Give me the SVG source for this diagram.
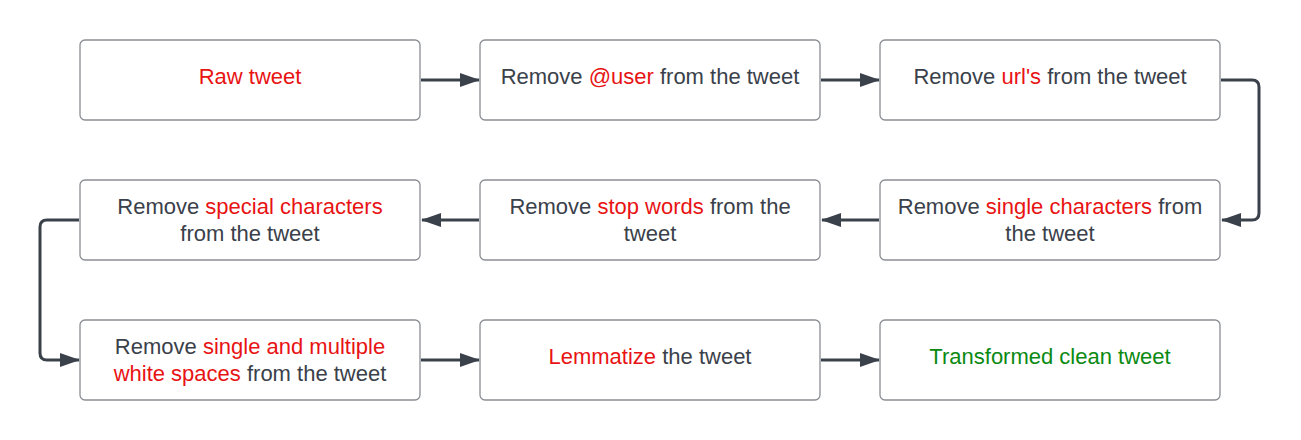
<svg xmlns="http://www.w3.org/2000/svg" width="1301" height="440" viewBox="0 0 1301 440">
<style>
.box{fill:#fff;stroke:#8a8d91;stroke-width:1.3}
text{font-family:"Liberation Sans",Arial,sans-serif;font-size:22px;fill:#3a414a;text-anchor:middle}
.r{fill:#e81313}
.g{fill:#0a8a12}
.c{fill:none;stroke:#3a414a;stroke-width:3;stroke-linejoin:round}
</style>
<defs>
<marker id="ah" viewBox="0 0 20 14" refX="19" refY="7" markerWidth="20" markerHeight="14" markerUnits="userSpaceOnUse" orient="auto">
<path d="M0,0 L20,7 L0,14 Z" fill="#3a414a"/>
</marker>
</defs>
<g id="connectors">
<path class="c" d="M421,80 H479" marker-end="url(#ah)"/>
<path class="c" d="M821,80 H879" marker-end="url(#ah)"/>
<path class="c" d="M1221,80 H1252 Q1259,80 1259,87 V213 Q1259,220 1252,220 H1222" marker-end="url(#ah)"/>
<path class="c" d="M879,220 H822" marker-end="url(#ah)"/>
<path class="c" d="M479,220 H422" marker-end="url(#ah)"/>
<path class="c" d="M79,220 H47 Q40,220 40,227 V353 Q40,360 47,360 H79" marker-end="url(#ah)"/>
<path class="c" d="M421,360 H479" marker-end="url(#ah)"/>
<path class="c" d="M821,360 H879" marker-end="url(#ah)"/>
</g>
<g id="n1"><rect class="box" x="80" y="40" width="340" height="80" rx="5"/><text x="250" y="84"><tspan class="r">Raw tweet</tspan></text></g>
<g id="n2"><rect class="box" x="480" y="40" width="340" height="80" rx="5"/><text x="650" y="84">Remove <tspan class="r">@user</tspan> from the tweet</text></g>
<g id="n3"><rect class="box" x="880" y="40" width="340" height="80" rx="5"/><text x="1050" y="84">Remove <tspan class="r">url's</tspan> from the tweet</text></g>
<g id="n4"><rect class="box" x="880" y="180" width="340" height="80" rx="5"/><text x="1050" y="214">Remove <tspan class="r">single characters</tspan> from</text><text x="1050" y="241">the tweet</text></g>
<g id="n5"><rect class="box" x="480" y="180" width="340" height="80" rx="5"/><text x="650" y="214">Remove <tspan class="r">stop words</tspan> from the</text><text x="650" y="241">tweet</text></g>
<g id="n6"><rect class="box" x="80" y="180" width="340" height="80" rx="5"/><text x="250" y="214">Remove <tspan class="r">special characters</tspan></text><text x="250" y="241">from the tweet</text></g>
<g id="n7"><rect class="box" x="80" y="320" width="340" height="80" rx="5"/><text x="250" y="354">Remove <tspan class="r">single and multiple</tspan></text><text x="250" y="381"><tspan class="r">white spaces</tspan> from the tweet</text></g>
<g id="n8"><rect class="box" x="480" y="320" width="340" height="80" rx="5"/><text x="650" y="364"><tspan class="r">Lemmatize</tspan> the tweet</text></g>
<g id="n9"><rect class="box" x="880" y="320" width="340" height="80" rx="5"/><text x="1050" y="364"><tspan class="g">Transformed clean tweet</tspan></text></g>
</svg>
